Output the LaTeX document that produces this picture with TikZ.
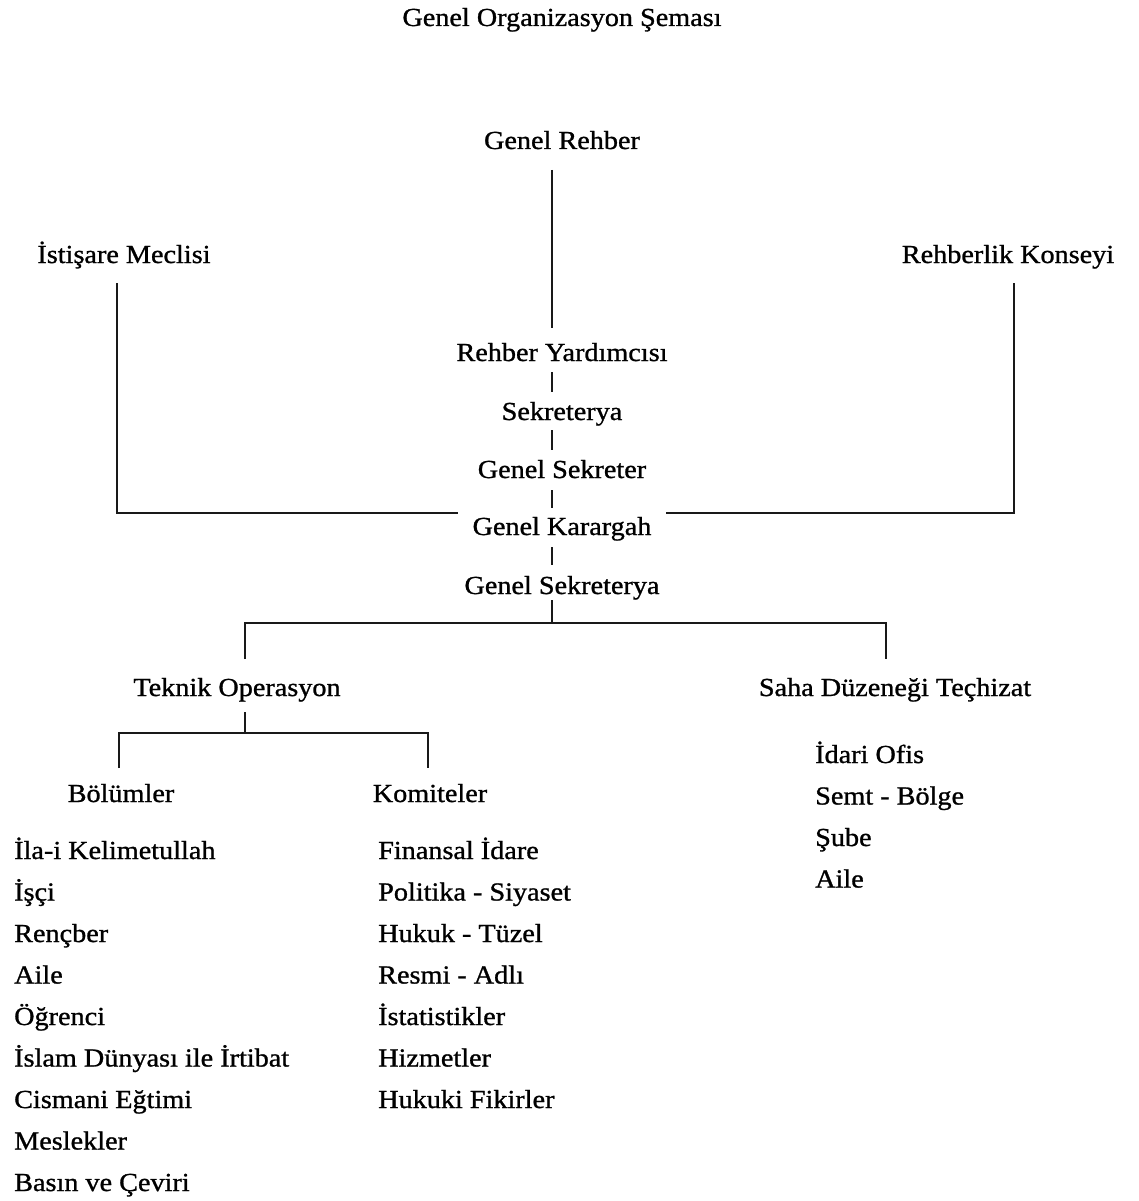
\documentclass[tikz,border=0pt]{standalone}
\usepackage{fontspec}
\setmainfont{Liberation Serif}[FakeStretch=1.085,FakeBold=1]
\begin{document}
\begin{tikzpicture}[x=1pt,y=-1pt,
  lbl/.style={inner sep=0pt, anchor=base, font=\fontsize{26}{30}\selectfont},
  item/.style={inner sep=0pt, anchor=base west, font=\fontsize{26}{30}\selectfont},
  conn/.style={line width=1.2pt, draw=black!90}]
\useasboundingbox (0,0) rectangle (1139,1201);
% title
\node[lbl] (title) at (562,26) {Genel Organizasyon Şeması};
% top level
\node[lbl] (gr) at (562,149) {Genel Rehber};
\node[lbl] (ist) at (124,263) {İstişare Meclisi};
\node[lbl] (rk) at (1008,263) {Rehberlik Konseyi};
% central chain
\node[lbl] (ry) at (562,361) {Rehber Yardımcısı};
\node[lbl] (sk) at (562,420) {Sekreterya};
\node[lbl] (gs) at (562,478) {Genel Sekreter};
\node[lbl] (gk) at (562,535) {Genel Karargah};
\node[lbl] (gsy) at (562,594) {Genel Sekreterya};
% second level
\node[lbl] (tek) at (237,696) {Teknik Operasyon};
\node[lbl] (saha) at (895,696) {Saha Düzeneği Teçhizat};
\node[lbl] (bol) at (121,802) {Bölümler};
\node[lbl] (kom) at (430,802) {Komiteler};
% Bölümler list
\node[item] (b1) at (14,859) {İla-i Kelimetullah};
\node[item] (b2) at (14,900.5) {İşçi};
\node[item] (b3) at (14,942) {Rençber};
\node[item] (b4) at (14,983.5) {Aile};
\node[item] (b5) at (14,1025) {Öğrenci};
\node[item] (b6) at (14,1066.5) {İslam Dünyası ile İrtibat};
\node[item] (b7) at (14,1108) {Cismani Eğtimi};
\node[item] (b8) at (14,1149.5) {Meslekler};
\node[item] (b9) at (14,1191) {Basın ve Çeviri};
% Komiteler list
\node[item] (k1) at (378,859) {Finansal İdare};
\node[item] (k2) at (378,900.5) {Politika - Siyaset};
\node[item] (k3) at (378,942) {Hukuk - Tüzel};
\node[item] (k4) at (378,983.5) {Resmi - Adlı};
\node[item] (k5) at (378,1025) {İstatistikler};
\node[item] (k6) at (378,1066.5) {Hizmetler};
\node[item] (k7) at (378,1108) {Hukuki Fikirler};
% Saha list
\node[item] (s1) at (815,763) {İdari Ofis};
\node[item] (s2) at (815,804.5) {Semt - Bölge};
\node[item] (s3) at (815,846) {Şube};
\node[item] (s4) at (815,887.5) {Aile};
% connectors: central spine
\draw[conn] ([xshift=-10pt,yshift=-21pt]gr.base) -- ([xshift=-10pt,yshift=33pt]ry.base);
\draw[conn] ([xshift=-10pt,yshift=-11pt]ry.base) -- ([xshift=-10pt,yshift=28pt]sk.base);
\draw[conn] ([xshift=-10pt,yshift=-10pt]sk.base) -- ([xshift=-10pt,yshift=28pt]gs.base);
\draw[conn] ([xshift=-10pt,yshift=-12pt]gs.base) -- ([xshift=-10pt,yshift=27pt]gk.base);
\draw[conn] ([xshift=-10pt,yshift=-12pt]gk.base) -- ([xshift=-10pt,yshift=29pt]gsy.base);
% side councils
\draw[conn] ([xshift=-7pt,yshift=-20pt]ist.base) |- ([xshift=-14pt,yshift=22pt]gk.base west);
\draw[conn] ([xshift=6pt,yshift=-20pt]rk.base) |- ([xshift=14pt,yshift=22pt]gk.base east);
% lower branch
\draw[conn] ([xshift=-10pt,yshift=-6pt]gsy.base) -- ([xshift=-10pt,yshift=-29pt]gsy.base);
\draw[conn] ([xshift=8pt,yshift=37pt]tek.base) |- ([xshift=-10pt,yshift=-29pt]gsy.base) -| ([xshift=-9pt,yshift=37pt]saha.base);
\draw[conn] ([xshift=8pt,yshift=-16pt]tek.base) -- ([xshift=8pt,yshift=-37pt]tek.base);
\draw[conn] ([xshift=-2pt,yshift=34pt]bol.base) |- ([xshift=8pt,yshift=-37pt]tek.base) -| ([xshift=-2pt,yshift=34pt]kom.base);
\end{tikzpicture}
\end{document}
